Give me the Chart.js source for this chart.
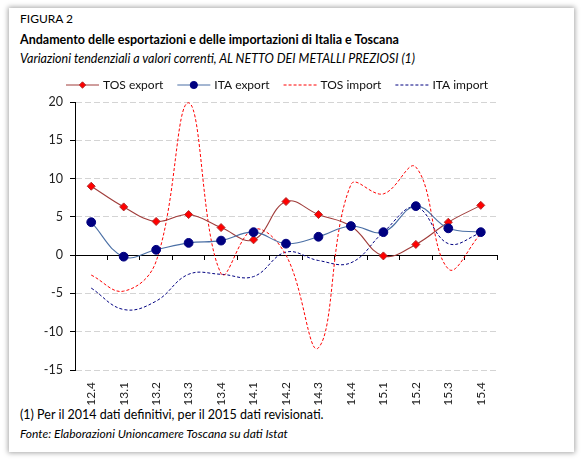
<!DOCTYPE html>
<html>
<head>
<meta charset="utf-8">
<script src="https://cdn.jsdelivr.net/npm/chart.js@4.4.0/dist/chart.umd.min.js"></script>
<style>
  html, body { margin: 0; padding: 0; background: #fff; }
  body { width: 583px; height: 460px; position: relative; overflow: hidden; font-family: Lato, "Noto Sans", sans-serif; color: #000; }
  #card { position: absolute; left: 9px; top: 8px; width: 565px; height: 444px; background: #fff; box-shadow: 0 0 5px 1px rgba(0,0,0,0.35); }
  .t { position: absolute; left: 20px; white-space: nowrap; line-height: 14px; }
  #fig { top: 12px; font-size: 12px; }
  #title { top: 33px; font-size: 12.5px; font-weight: bold; }
  #sub { top: 52px; font-size: 12.5px; font-style: italic; }
  #note { top: 408px; font-size: 12.5px; }
  #src { top: 427px; font-size: 12px; font-style: italic; }
  #chart { position: absolute; left: 0; top: 0; }
</style>
</head>
<body>
<div id="card"></div>
<div class="t" id="fig">FIGURA 2</div>
<div class="t" id="title">Andamento delle esportazioni e delle importazioni di Italia e Toscana</div>
<div class="t" id="sub">Variazioni tendenziali a valori correnti, AL NETTO DEI METALLI PREZIOSI (1)</div>
<div class="t" id="note">(1) Per il 2014 dati definitivi, per il 2015 dati revisionati.</div>
<div class="t" id="src">Fonte: Elaborazioni Unioncamere Toscana su dati Istat</div>
<canvas id="chart" width="583" height="460"></canvas>
<script>
// trimestri (anno.trimestre)
const quarters = ["12.4", "13.1", "13.2", "13.3", "13.4", "14.1", "14.2", "14.3", "14.4", "15.1", "15.2", "15.3", "15.4"];
const tosExport = [9.0, 6.3, 4.4, 5.3, 3.6, 2.0, 7.0, 5.3, 3.8, -0.1, 1.4, 4.3, 6.5];
const itaExport = [4.3, -0.2, 0.7, 1.6, 1.9, 3.0, 1.5, 2.4, 3.8, 3.0, 6.4, 3.5, 3.0];
const tosImport = [-2.6, -4.7, -0.8, 19.9, -2.4, 3.4, 0.0, -12.1, 9.2, 8.0, 11.5, -1.8, 2.8];
const itaImport = [-4.3, -7.1, -6.0, -2.5, -2.5, -2.8, 0.4, -0.7, -1.0, 3.0, 6.3, 1.5, 2.9];
const yTicks = [-15, -10, -5, 0, 5, 10, 15, 20];

const FONT = "Lato, 'Noto Sans', sans-serif";

// legenda disegnata a mano: linea + marcatore + testo
const lineLegend = {
  id: "lineLegend",
  afterDraw(chart) {
    const ctx = chart.ctx;
    let x = 66;
    const y = 85;
    ctx.save();
    ctx.font = "12px " + FONT;
    ctx.textBaseline = "middle";
    chart.data.datasets.forEach((ds) => {
      ctx.strokeStyle = ds.borderColor;
      ctx.lineWidth = 1;
      ctx.setLineDash(ds.borderDash || []);
      ctx.beginPath();
      ctx.moveTo(x, y);
      ctx.lineTo(x + 33, y);
      ctx.stroke();
      ctx.setLineDash([]);
      if (ds.pointRadius) {
        ctx.fillStyle = ds.pointBackgroundColor;
        ctx.strokeStyle = ds.pointBorderColor;
        ctx.lineWidth = 1;
        Chart.helpers.drawPoint(ctx, { pointStyle: ds.pointStyle, radius: ds.pointRadius - 0.8, borderWidth: 1, rotation: 0 }, x + 16.5, y);
      }
      ctx.fillStyle = "#111";
      ctx.fillText(ds.label, x + 37, y);
      x += 37 + ctx.measureText(ds.label).width + 14;
    });
    ctx.restore();
  },
};

new Chart(document.getElementById("chart"), {
  type: "line",
  data: {
    labels: quarters,
    datasets: [
      {
        label: "TOS export",
        data: tosExport,
        borderColor: "#A03C3A",
        borderWidth: 1.1,
        pointStyle: "rectRot",
        pointRadius: 4,
        pointBackgroundColor: "#FF0000",
        pointBorderColor: "#B02A2A",
        pointBorderWidth: 1,
        tension: 0.4,
        order: 1,
      },
      {
        label: "ITA export",
        data: itaExport,
        borderColor: "#4A6FA5",
        borderWidth: 1.1,
        pointStyle: "circle",
        pointRadius: 4.4,
        pointBackgroundColor: "#000080",
        pointBorderColor: "#000080",
        pointBorderWidth: 1,
        tension: 0.4,
        order: 0,
      },
      {
        label: "TOS import",
        data: tosImport,
        borderColor: "#FF0000",
        borderWidth: 1,
        borderDash: [3, 2],
        pointRadius: 0,
        tension: 0.4,
        order: 2,
      },
      {
        label: "ITA import",
        data: itaImport,
        borderColor: "#000080",
        borderWidth: 1,
        borderDash: [3, 2],
        pointRadius: 0,
        tension: 0.4,
        order: 3,
      },
    ],
  },
  options: {
    responsive: false,
    animation: false,
    layout: { padding: { left: 20, right: 86, top: 102, bottom: 50 } },
    plugins: {
      legend: { display: false },
      tooltip: { enabled: false },
    },
    scales: {
      y: {
        position: "left",
        min: yTicks[0],
        max: yTicks[yTicks.length - 1],
        afterBuildTicks: (s) => { s.ticks = yTicks.map((v) => ({ value: v })); },
        afterFit: (s) => { s.width = 55; },
        ticks: { color: "#222", padding: 7, font: { family: FONT, size: 12.5 } },
        grid: {
          color: (c) => (c.tick && c.tick.value === 0 ? "rgba(0,0,0,0)" : "#D4D4D4"),
          tickColor: "#000",
          tickLength: 5,
        },
        border: { display: true, color: "#000", width: 1, dash: [6, 3] },
      },
      x: {
        position: { y: 0 },
        offset: true,
        ticks: { display: false },
        grid: { drawOnChartArea: false, tickColor: "#000", tickLength: 4, offset: true },
        border: { display: true, color: "#000", width: 1 },
      },
      x2: {
        type: "category",
        position: "bottom",
        offset: true,
        afterFit: (s) => { s.height = 40; },
        ticks: { color: "#222", padding: 12, minRotation: 90, maxRotation: 90, font: { family: FONT, size: 12 } },
        grid: { display: false, drawTicks: false },
        border: { display: false },
      },
    },
  },
  plugins: [lineLegend],
});
</script>
</body>
</html>
